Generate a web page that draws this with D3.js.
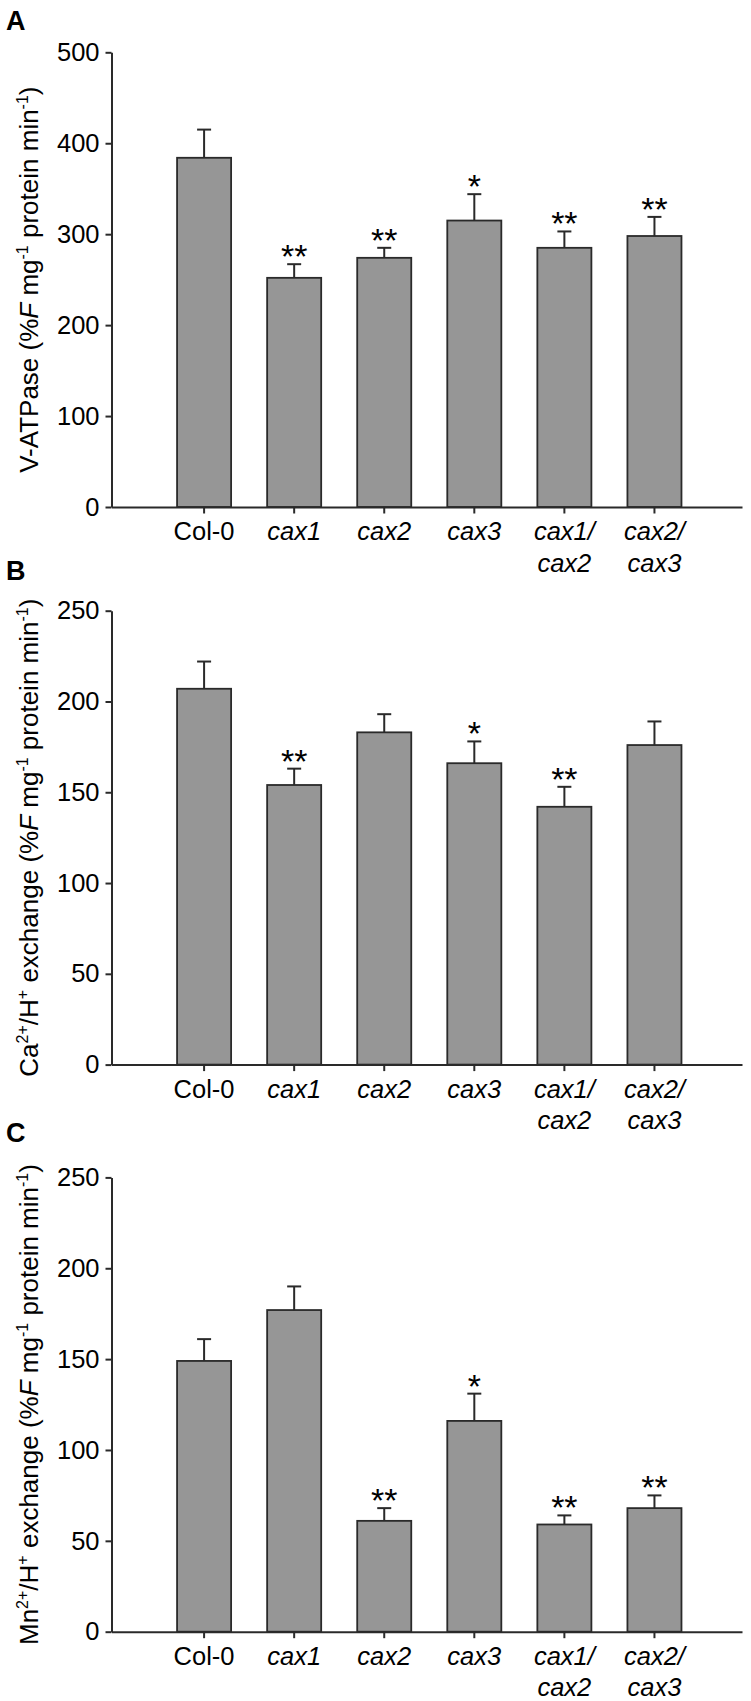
<!DOCTYPE html>
<html><head><meta charset="utf-8">
<script src="https://cdn.jsdelivr.net/npm/d3@7"></script>
<style>
html,body{margin:0;padding:0;background:#fff;}
svg{display:block;font-family:"Liberation Sans",Arial,Helvetica,sans-serif;}
</style></head>
<body>
<svg id="chart" width="751" height="1701"></svg>
<script>
// ---- data ----
const categories = ["Col-0", "cax1", "cax2", "cax3", "cax1/cax2", "cax2/cax3"];
const italicCats = [false, true, true, true, true, true];

const vatpaseMean = [384, 252, 274, 315, 285, 298];
const vatpaseErr  = [31, 15, 11, 29, 18, 21];
const vatpaseSig  = ["", "**", "**", "*", "**", "**"];
const vatpaseTicks = [0, 100, 200, 300, 400, 500];

const caMean = [207, 154, 183, 166, 142, 176];
const caErr  = [15, 9, 10, 12, 11, 13];
const caSig  = ["", "**", "", "*", "**", ""];
const caTicks = [0, 50, 100, 150, 200, 250];

const mnMean = [149, 177, 61, 116, 59, 68];
const mnErr  = [12, 13, 7, 15, 5, 7];
const mnSig  = ["", "", "**", "*", "**", "**"];
const mnTicks = [0, 50, 100, 150, 200, 250];

const panels = [
  {letter:"A", letterY:30, top:52.3, bottom:507, max:500, ticks:vatpaseTicks,
   mean:vatpaseMean, err:vatpaseErr, sig:vatpaseSig, label:"V-ATPase"},
  {letter:"B", letterY:580, top:610.7, bottom:1064.6, max:250, ticks:caTicks,
   mean:caMean, err:caErr, sig:caSig, label:"Ca"},
  {letter:"C", letterY:1142, top:1177.4, bottom:1631.7, max:250, ticks:mnTicks,
   mean:mnMean, err:mnErr, sig:mnSig, label:"Mn"}
];

const svg = d3.select("#chart");
const axisX0 = 111.5, axisX1 = 742;
const ink = "#2a2a2a";

const x = d3.scaleBand().domain(categories).range([axisX0, axisX1])
  .paddingInner(0.4).paddingOuter(0.7).align(0.52);

panels.forEach(p => {
  const g = svg.append("g");
  const y = d3.scaleLinear().domain([0, p.max]).range([p.bottom, p.top]);
  const cx = d => x(d) + x.bandwidth() / 2;

  // panel letter
  g.append("text").attr("x", 6).attr("y", p.letterY)
    .attr("font-size", 27).attr("font-weight", "bold").attr("fill", "#000")
    .text(p.letter);

  // bars
  g.selectAll("rect.bar").data(categories).enter().append("rect")
    .attr("class", "bar")
    .attr("x", d => x(d))
    .attr("width", x.bandwidth())
    .attr("y", (d, i) => y(p.mean[i]))
    .attr("height", (d, i) => y(0) - y(p.mean[i]))
    .attr("fill", "#969696").attr("stroke", ink).attr("stroke-width", 1.8);

  // error bars
  g.selectAll("line.err").data(categories).enter().append("line")
    .attr("x1", cx).attr("x2", cx)
    .attr("y1", (d, i) => y(p.mean[i]))
    .attr("y2", (d, i) => y(p.mean[i] + p.err[i]))
    .attr("stroke", ink).attr("stroke-width", 2);
  g.selectAll("line.cap").data(categories).enter().append("line")
    .attr("x1", d => cx(d) - 7).attr("x2", d => cx(d) + 7)
    .attr("y1", (d, i) => y(p.mean[i] + p.err[i]))
    .attr("y2", (d, i) => y(p.mean[i] + p.err[i]))
    .attr("stroke", ink).attr("stroke-width", 2);

  // significance stars
  const sigIdx = categories.map((c, i) => i).filter(i => p.sig[i] !== "");
  g.selectAll("text.sig").data(sigIdx).enter().append("text")
    .attr("x", i => cx(categories[i]))
    .attr("y", i => y(p.mean[i] + p.err[i]) + 4)
    .attr("text-anchor", "middle").attr("font-size", 34).attr("fill", "#000")
    .text(i => p.sig[i]);

  // y axis
  const ya = g.append("g").attr("transform", `translate(${axisX0},0)`)
    .call(d3.axisLeft(y).tickValues(p.ticks).tickSize(6).tickPadding(6).tickSizeOuter(0));
  ya.selectAll("path,line").attr("stroke", ink).attr("stroke-width", 2);
  ya.selectAll("text").attr("font-size", 25.5).attr("fill", "#000")
    .attr("font-family", "Liberation Sans, Arial, sans-serif");

  // x axis
  const xa = g.append("g").attr("transform", `translate(0,${p.bottom})`)
    .call(d3.axisBottom(x).tickSize(6.5).tickSizeOuter(0).tickFormat(() => ""));
  xa.selectAll("path,line").attr("stroke", ink).attr("stroke-width", 2);
  xa.selectAll(".tick text").remove();

  // x tick labels (multi-line)
  categories.forEach((c, i) => {
    const lines = c.includes("/") ? [c.split("/")[0] + "/", c.split("/")[1]] : [c];
    const t = g.append("text").attr("text-anchor", "middle")
      .attr("font-size", 25.5).attr("fill", "#000")
      .attr("font-style", italicCats[i] ? "italic" : "normal");
    lines.forEach((ln, k) => {
      t.append("tspan").attr("x", cx(c)).attr("y", p.bottom + 33 + k * 31.7).text(ln);
    });
  });

  // y label
  const mid = (p.top + p.bottom) / 2;
  const lab = g.append("text").attr("transform", `translate(38,${mid}) rotate(-90)`)
    .attr("text-anchor", "middle").attr("font-size", 26).attr("fill", "#000");
  let pendingDy = 0;
  const part = (txt, italic) => {
    const ts = lab.append("tspan").text(txt);
    if (pendingDy) { ts.attr("dy", pendingDy); pendingDy = 0; }
    if (italic) ts.attr("font-style", "italic");
  };
  const sup = (txt) => {
    lab.append("tspan").attr("font-size", 16).attr("dy", -10).text(txt);
    pendingDy = 10;
  };
  if (p.label === "V-ATPase") {
    part("V-ATPase (%");
  } else {
    part(p.label);
    sup("2+");
    part("/H");
    sup("+");
    part(" exchange (%");
  }
  part("F", true);
  part(" mg");
  sup("-1");
  part(" protein min");
  sup("-1");
  part(")");
});
</script>
</body></html>
